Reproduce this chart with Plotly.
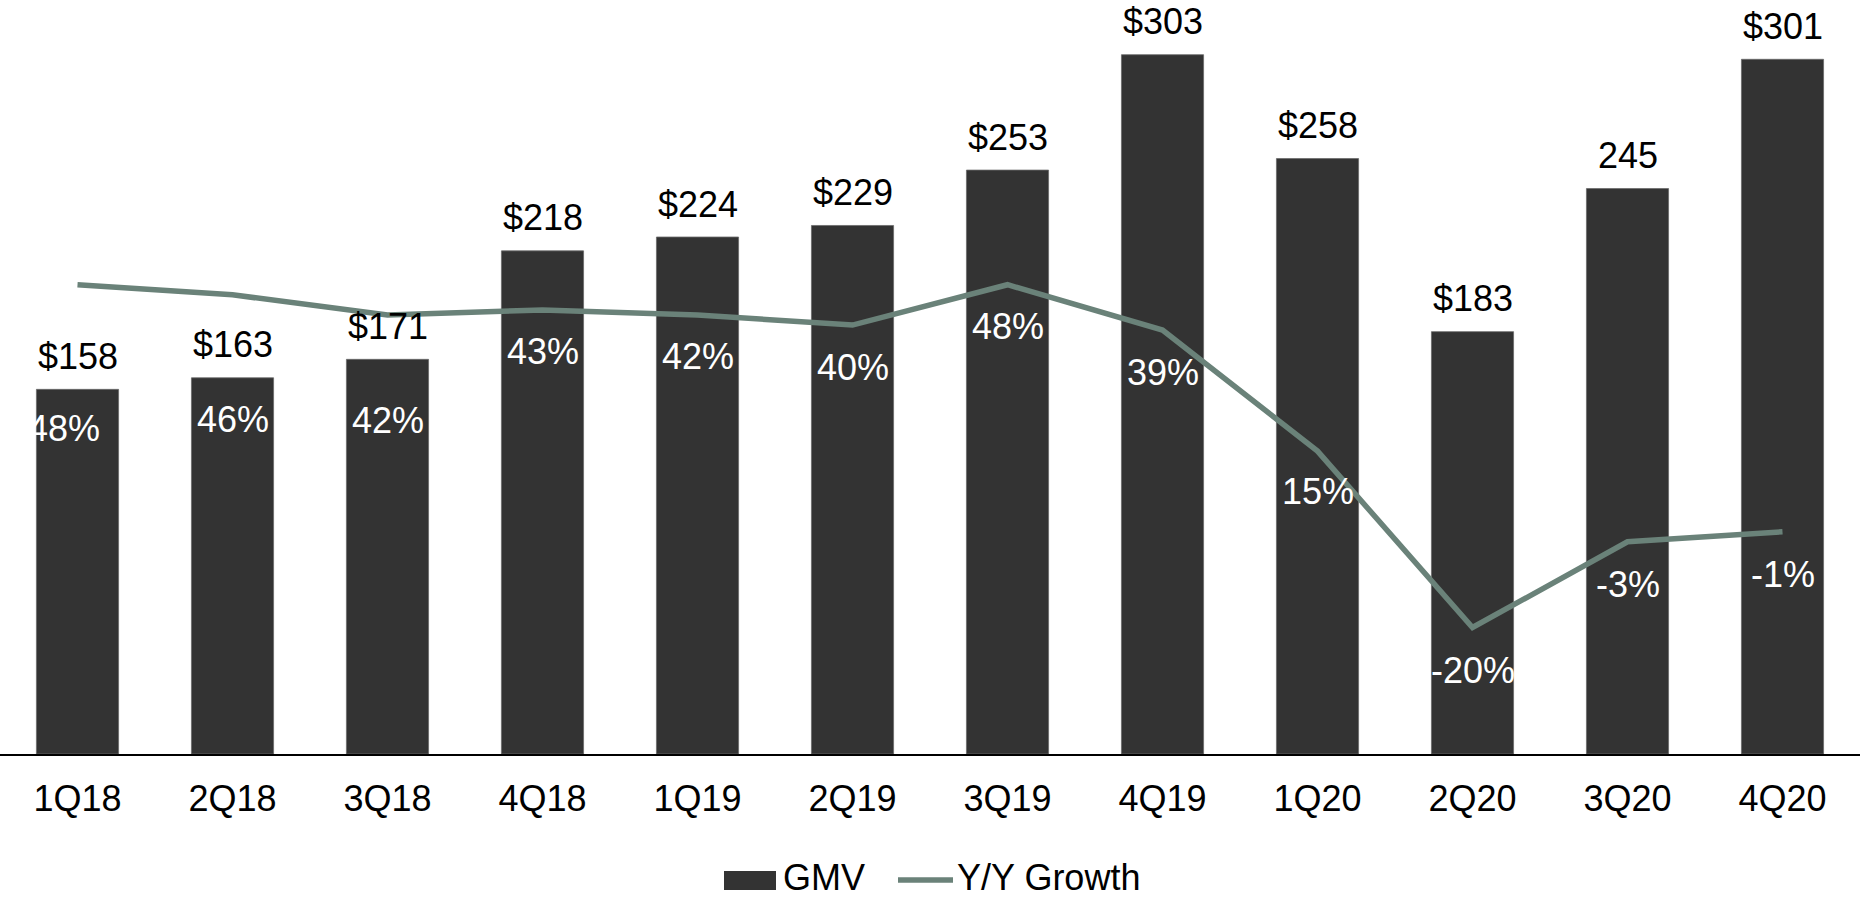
import plotly.graph_objects as go

# Quarterly GMV and year-over-year growth
quarters = ["1Q18", "2Q18", "3Q18", "4Q18", "1Q19", "2Q19", "3Q19", "4Q19",
            "1Q20", "2Q20", "3Q20", "4Q20"]
gmv = [158, 163, 171, 218, 224, 229, 253, 303, 258, 183, 245, 301]
gmv_labels = ["$158", "$163", "$171", "$218", "$224", "$229", "$253", "$303",
              "$258", "$183", "245", "$301"]
yoy_growth = [48, 46, 42, 43, 42, 40, 48, 39, 15, -20, -3, -1]

# label placement (pixels) for the growth labels
growth_label_yshift = [-144, -125, -106, -42, -42, -42, -42, -42, -40, -43, -43, -43]
growth_label_xshift = [-14, 0, 0, 0, 0, 0, 0, 0, 0, 0, 0, 0]

FONT = "Liberation Sans, Arial, sans-serif"
BAR_COLOR = "#333333"
LINE_COLOR = "#6a8279"

fig = go.Figure()
fig.add_trace(go.Bar(
    x=quarters, y=gmv, name="GMV", width=0.53,
    marker=dict(color=BAR_COLOR, line=dict(color="#6a6a6a", width=0.8)),
    showlegend=False,
))
fig.add_trace(go.Scatter(
    x=quarters, y=yoy_growth, name="Y/Y Growth", mode="lines", yaxis="y2",
    line=dict(color=LINE_COLOR, width=5.5),
    showlegend=False,
))

annotations = []
for q, v, lab in zip(quarters, gmv, gmv_labels):
    annotations.append(dict(
        x=q, y=v, xref="x", yref="y", text=lab, showarrow=False,
        yanchor="middle", yshift=33, font=dict(family=FONT, size=36, color="#000000"),
    ))
for q, g, dy, dx in zip(quarters, yoy_growth, growth_label_yshift, growth_label_xshift):
    annotations.append(dict(
        x=q, y=g, xref="x", yref="y2", text=f"{g}%", showarrow=False,
        yanchor="middle", yshift=dy, xshift=dx,
        font=dict(family=FONT, size=36, color="#ffffff"),
    ))

# legend drawn below the axis
LEGEND_TEXT_Y = -0.1638
annotations.append(dict(x=781 / 1860, y=LEGEND_TEXT_Y, xref="paper", yref="paper", text="GMV",
                        showarrow=False, xanchor="left", yanchor="middle",
                        font=dict(family=FONT, size=36, color="#000000")))
annotations.append(dict(x=955 / 1860, y=LEGEND_TEXT_Y, xref="paper", yref="paper", text="Y/Y Growth",
                        showarrow=False, xanchor="left", yanchor="middle",
                        font=dict(family=FONT, size=36, color="#000000")))
shapes = [
    dict(type="rect", xref="paper", yref="paper", x0=724 / 1860, x1=776 / 1860,
         y0=-0.1805, y1=-0.1553, fillcolor=BAR_COLOR, line=dict(width=0)),
    dict(type="line", xref="paper", yref="paper", x0=898 / 1860, x1=953 / 1860,
         y0=-0.1672, y1=-0.1672, line=dict(color=LINE_COLOR, width=5.5)),
]

fig.update_layout(
    width=1860, height=899,
    margin=dict(l=0, r=0, t=0, b=145),
    paper_bgcolor="#ffffff", plot_bgcolor="#ffffff",
    font=dict(family=FONT, size=36, color="#000000"),
    xaxis=dict(type="category", range=[-0.5, 11.5], showline=True, linecolor="#000000",
               linewidth=2, showgrid=False, ticks="", tickfont=dict(size=36),
               ticklabelstandoff=12, zeroline=False),
    yaxis=dict(range=[0, 326.7], visible=False, showgrid=False, zeroline=False),
    yaxis2=dict(range=[-45.09, 104.48], overlaying="y", visible=False,
                showgrid=False, zeroline=False),
    annotations=annotations,
    shapes=shapes,
    showlegend=False,
)

fig.write_html("out.html")
